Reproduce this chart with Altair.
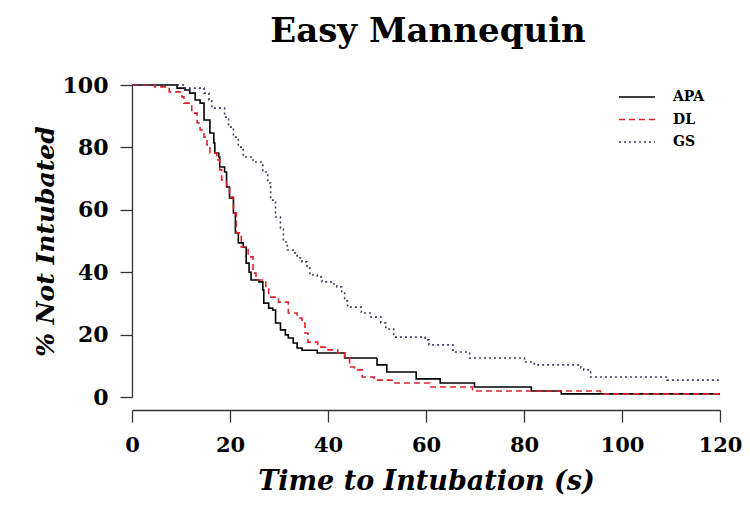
import altair as alt
import pandas as pd

chart_title = ["Easy Mannequin"]
series_names = ["APA", "DL", "GS"]
series_colors = ["#000000", "#e0222a", "#3e3e66"]
series_dashes = [[1, 0], [6, 4], [2, 3]]

apa_t = [0, 9.2, 10.8, 11.8, 12.9, 13.9, 14.7, 15.9, 16.7, 16.9, 17.7, 17.9, 18.9, 19.3, 19.9,
         20.7, 21.1, 21.7, 22.7, 23.3, 23.9, 24.3, 25.9, 26.7, 26.9, 27.9, 28.7, 29.3, 30.3,
         31.3, 31.9, 32.9, 33.7, 34.7, 37.8, 43.4, 50.0, 52.0, 58.0, 62.9, 69.9, 81.5, 87.6, 120]
apa_s = [100, 99, 98.4, 97.4, 95.2, 94.2, 88.8, 84.6, 81.4, 78.2, 76.9, 73.7, 72.1, 67.3, 63.8,
         59.0, 52.6, 49.4, 48.0, 42.9, 40.0, 37.5, 36.9, 34.3, 30.1, 28.5, 27.9, 23.7, 21.5,
         19.9, 18.9, 17.3, 15.7, 15.0, 14.1, 12.5, 10.3, 8.0, 5.8, 4.5, 3.2, 1.9, 1.0, 1.0]

dl_t = [0, 4.6, 7.6, 10.2, 10.6, 12.2, 13.3, 13.9, 14.7, 15.3, 15.9, 17.3, 17.9, 18.3, 19.3,
        19.9, 20.7, 21.3, 22.3, 23.7, 24.7, 25.3, 27.3, 27.9, 29.9, 31.9, 33.7, 34.7, 35.3,
        35.9, 37.9, 40.0, 42.0, 43.4, 44.4, 45.4, 47.0, 49.4, 53.4, 60.8, 69.5, 95.6, 120]
dl_s = [100, 99.4, 97.8, 96.2, 94.2, 91.0, 87.8, 85.6, 83.3, 80.8, 78.2, 76.0, 72.8, 69.6, 67.3,
        64.1, 59.0, 52.6, 48.1, 44.9, 39.7, 37.5, 34.9, 32.0, 30.4, 26.9, 25.3, 23.7, 20.5,
        17.6, 16.0, 15.1, 14.1, 12.8, 9.6, 8.7, 6.4, 5.4, 4.5, 3.2, 1.9, 1.0, 1.0]

gs_t = [0, 10.8, 14.7, 15.7, 16.3, 18.9, 19.7, 20.7, 21.7, 22.7, 24.7, 26.7, 27.7, 28.3, 29.3,
        30.3, 30.9, 31.7, 32.9, 33.7, 34.7, 35.7, 36.3, 37.8, 38.8, 41.0, 41.8, 42.8, 43.4,
        44.0, 46.8, 48.8, 50.8, 51.8, 53.4, 59.8, 60.6, 65.5, 68.9, 80.1, 82.1, 91.6, 92.2,
        93.6, 109.2, 120]
gs_s = [100, 99.0, 97.4, 95.2, 92.6, 89.7, 86.5, 83.3, 80.1, 76.9, 75.3, 72.1, 68.6, 63.1, 57.7,
        54.2, 49.7, 47.1, 46.2, 44.6, 43.3, 41.3, 39.1, 38.5, 36.9, 36.2, 35.3, 33.3, 30.8,
        28.8, 26.9, 25.6, 23.7, 21.8, 19.2, 18.3, 16.7, 14.4, 12.5, 11.2, 10.3, 9.3, 8.7,
        6.4, 5.4, 5.4]

x_ticks = [0, 20, 40, 60, 80, 100, 120]
y_ticks = [0, 20, 40, 60, 80, 100]

rows = []
for name, ts, ss in [("APA", apa_t, apa_s), ("DL", dl_t, dl_s), ("GS", gs_t, gs_s)]:
    for t, s in zip(ts, ss):
        rows.append({"series": name, "time": t, "pct": s})
df = pd.DataFrame(rows)

FONT = "DejaVu Serif"
AX = "#333333"
LEFT, TOP = 124, 77
W, H = 588, 312

legend = alt.Legend(
    title=None, orient="none", legendX=498, legendY=5, padding=0,
    symbolType="M-3,0H3", symbolSize=144, symbolStrokeWidth=1.5,
    labelFont=FONT, labelFontSize=14, labelFontWeight="bold", labelColor="#000000",
    labelOffset=29, rowPadding=8.5,
)

lines = alt.Chart(df).mark_line(interpolate="step-after", strokeWidth=1.6).encode(
    x=alt.X("time:Q", scale=alt.Scale(domain=[0, 120], nice=False, zero=False),
            axis=alt.Axis(values=x_ticks, title="Time to Intubation (s)", offset=13,
                          tickSize=12, grid=False, domainColor=AX, tickColor=AX,
                          domainWidth=1.3, tickWidth=1.3,
                          labelFont=FONT, labelFontSize=21, labelFontWeight="bold",
                          labelColor="#000000", labelPadding=12, labelFlush=False,
                          titleFont=FONT, titleFontSize=27, titleFontWeight="bold",
                          titleFontStyle="italic", titleColor="#000000", titlePadding=13)),
    y=alt.Y("pct:Q", scale=alt.Scale(domain=[0, 100], nice=False),
            axis=alt.Axis(values=y_ticks, title="% Not Intubated", tickSize=12, grid=False,
                          domainColor=AX, tickColor=AX, domainWidth=1.3, tickWidth=1.3,
                          labelFont=FONT, labelFontSize=22, labelFontWeight="bold",
                          labelColor="#000000", labelPadding=12, labelFlush=False,
                          titleFont=FONT, titleFontSize=25, titleFontWeight="bold",
                          titleFontStyle="italic", titleColor="#000000",
                          titleX=-87, titleY=156, titleAngle=-90, titleAlign="center",
                          titleBaseline="middle")),
    color=alt.Color("series:N", scale=alt.Scale(domain=series_names, range=series_colors),
                    legend=legend),
    strokeDash=alt.StrokeDash("series:N", scale=alt.Scale(domain=series_names, range=series_dashes),
                              legend=legend),
)

title_text = alt.Chart(pd.DataFrame({"label": chart_title})).mark_text(
    font=FONT, fontSize=34, fontWeight="bold", color="#000000",
    align="center", baseline="alphabetic",
).encode(text="label:N", x=alt.value(296), y=alt.value(-43))

chart = alt.layer(lines, title_text).properties(
    width=W, height=H,
    padding={"left": LEFT, "top": TOP, "right": 734 - LEFT - W, "bottom": 488 - TOP - H},
    autosize=alt.AutoSizeParams(type="none"),
).configure(background="#ffffff", view=alt.ViewConfig(stroke=None))

chart.save("out.html", embed_options={"renderer": "svg", "actions": False})
